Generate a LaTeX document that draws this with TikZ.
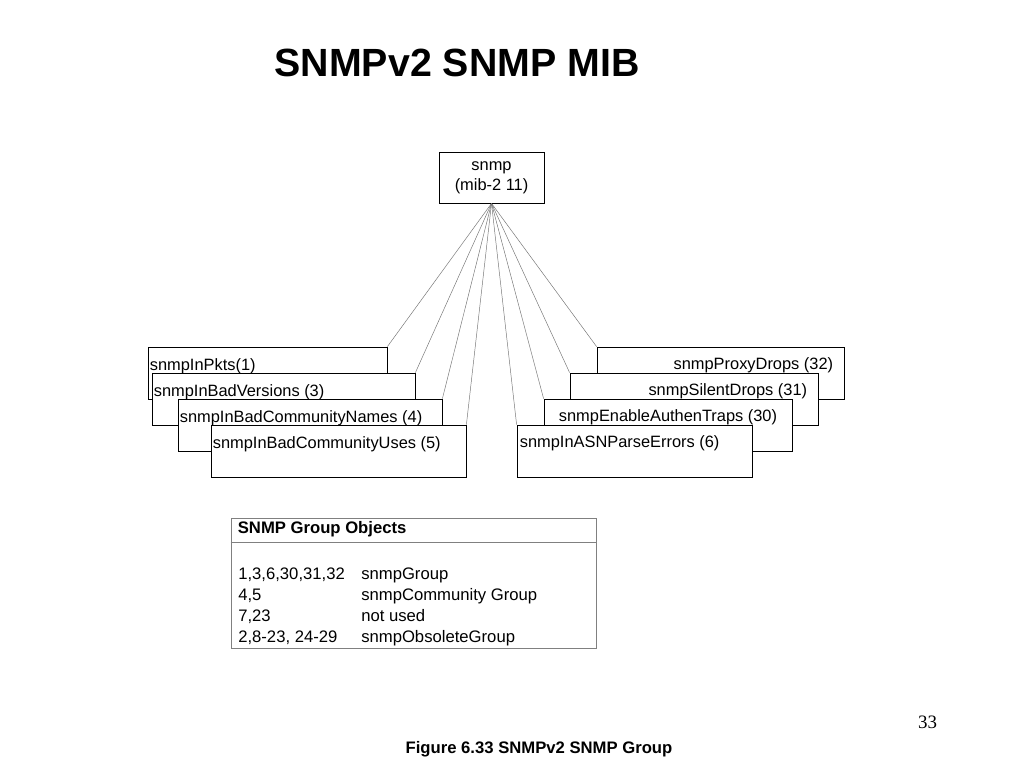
\documentclass[tikz,border=0pt]{standalone}
\usepackage{fontspec}
\setmainfont{Liberation Sans}
\newfontfamily\pagenumfont{Liberation Serif}
\usetikzlibrary{calc}

\tikzset{
	mib/.style={draw, fill=white, line width=0.6pt, inner sep=0pt, minimum height=39pt},
	mibtext/.style={inner sep=0pt, font=\fontsize{12.3}{15}\selectfont},
	fan/.style={draw=black!55, line width=0.35pt},
	grptab/.style={draw=black!50, line width=0.6pt},
	grptext/.style={inner sep=0pt, anchor=base west, font=\fontsize{12.5}{15}\selectfont},
}

\begin{document}
\begin{tikzpicture}[x=0.75pt,y=-0.75pt]
			\useasboundingbox (0,0) rectangle (1024,768);
			%%%%% TITLE %%%%%
			\node[inner sep=0pt, font=\bfseries\fontsize{29.5}{34}\selectfont] (title) at (457,63) {SNMPv2 SNMP MIB};
			
			%%%%% ROOT %%%%%
			\node[mib, mibtext, align=center, minimum width=78.75pt, minimum height=38.25pt] (snmp) at (491.5,177.5) {snmp\\(mib-2 11)};
			
			%%%%% LEFT STACK %%%%%
			\node[mib, minimum width=179.25pt] (inpkts) at (267.5,373) {};
			\node[mibtext, anchor=base west] (inpktstxt) at ($(inpkts.north west)+(2,24)$) {snmpInPkts(1)};
			\node[mib, minimum width=197.25pt] (badver) at (283.5,399) {};
			\node[mibtext, anchor=base west] (badvertxt) at ($(badver.north west)+(2,24)$) {snmpInBadVersions (3)};
			\node[mib, minimum width=198pt] (badname) at (310,425) {};
			\node[mibtext, anchor=base west] (badnametxt) at ($(badname.north west)+(2,24)$) {snmpInBadCommunityNames (4)};
			\node[mib, minimum width=191.25pt] (baduse) at (338.5,451) {};
			\node[mibtext, anchor=base west] (badusetxt) at ($(baduse.north west)+(2,24)$) {snmpInBadCommunityUses (5)};
			
			%%%%% RIGHT STACK %%%%%
			\node[mib, minimum width=185.25pt] (proxy) at (720.5,373) {};
			\node[mibtext, anchor=base east] (proxytxt) at ($(proxy.north east)+(-11,23)$) {snmpProxyDrops (32)};
			\node[mib, minimum width=186pt] (silent) at (694,399) {};
			\node[mibtext, anchor=base east] (silenttxt) at ($(silent.north east)+(-11,23)$) {snmpSilentDrops (31)};
			\node[mib, minimum width=186pt] (authen) at (668,425) {};
			\node[mibtext, anchor=base] (authentxt) at ($(authen.north)+(0,23)$) {snmpEnableAuthenTraps (30)};
			\node[mib, minimum width=176.25pt] (asnerr) at (634.5,451) {};
			\node[mibtext, anchor=base west] (asnerrtxt) at ($(asnerr.north west)+(3,23)$) {snmpInASNParseErrors (6)};
			
			%%%%% FAN %%%%%
			\draw[fan] (snmp.south) -- (inpkts.north east);
			\draw[fan] (snmp.south) -- (badver.north east);
			\draw[fan] (snmp.south) -- (badname.north east);
			\draw[fan] (snmp.south) -- (baduse.north east);
			\draw[fan] (snmp.south) -- (proxy.north west);
			\draw[fan] (snmp.south) -- (silent.north west);
			\draw[fan] (snmp.south) -- (authen.north west);
			\draw[fan] (snmp.south) -- (asnerr.north west);
			
			%%%%% GROUP TABLE %%%%%
			\node[grptab, inner sep=0pt, minimum width=273.75pt, minimum height=97.5pt] (grp) at (413.5,583) {};
			\draw[grptab] ($(grp.north west)+(0,25)$) -- ($(grp.north east)+(0,25)$);
			\node[grptext, font=\bfseries\fontsize{12.5}{15}\selectfont] (grphead) at ($(grp.north west)+(7,16)$) {SNMP Group Objects};
			\node[grptext] (nums1) at (238,579) {1,3,6,30,31,32};
			\node[grptext] (name1) at (361,579) {snmpGroup};
			\node[grptext] (nums2) at (238,600) {4,5};
			\node[grptext] (name2) at (361,600) {snmpCommunity Group};
			\node[grptext] (nums3) at (238,621) {7,23};
			\node[grptext] (name3) at (361,621) {not used};
			\node[grptext] (nums4) at (238,642) {2,8-23, 24-29};
			\node[grptext] (name4) at (361,642) {snmpObsoleteGroup};
			
			%%%%% FOOTER %%%%%
			\node[inner sep=0pt, anchor=base, font=\pagenumfont\fontsize{14.2}{16}\selectfont] (pagenum) at (927.5,728) {33};
			\node[inner sep=0pt, anchor=base, font=\bfseries\fontsize{12.5}{15}\selectfont] (caption) at (539,753) {Figure 6.33 SNMPv2 SNMP Group};
		\end{tikzpicture}
\end{document}
